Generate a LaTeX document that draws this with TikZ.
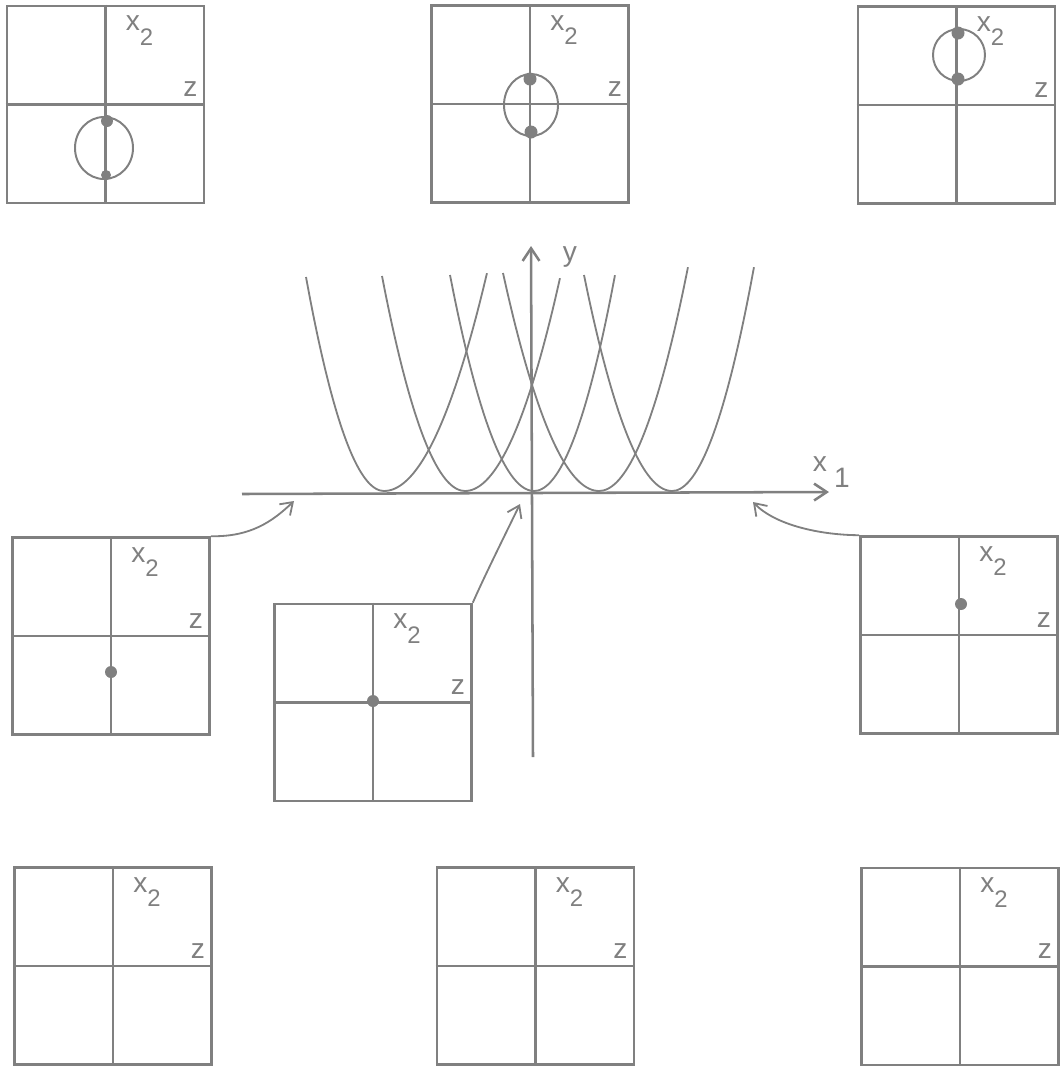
\documentclass[tikz,border=0pt]{standalone}
\usepackage{fontspec}
\setmainfont{Liberation Sans}
\usetikzlibrary{arrows.meta, positioning}
\definecolor{pencil}{RGB}{128,128,128}

\begin{document}
\begin{tikzpicture}[
  x=0.025cm, y=-0.025cm,
  panel/.style={rectangle, draw=pencil, line width=1.8pt,
                minimum width=4.925cm, minimum height=4.925cm, inner sep=0pt},
  divider/.style={draw=pencil, line width=1.8pt},
  tag/.style={text=pencil, inner sep=0pt, font=\fontsize{20}{22}\selectfont},
  curve/.style={draw=pencil, line width=1.3pt},
  ring/.style={draw=pencil, line width=1.4pt},
  dot/.style={fill=pencil},
  axisline/.style={draw=pencil, line width=1.8pt, -{Straight Barb[length=9pt, width=12pt]}},
  arrow/.style={draw=pencil, line width=1.3pt, -{Straight Barb[length=8pt, width=11pt]}}
]
  \useasboundingbox (0,0) rectangle (1060,1068);

  % the nine x2-z panels
  \foreach \name/\cx/\cy in {tl/105.5/104.5, tm/530/104, tr/956.5/105,
                             ml/111/636, mc/373/702.5, mr/959/635,
                             bl/113/966, bm/535.5/966, br/960/966.5} {
    \node[panel] (\name) at (\cx,\cy) {};
    \draw[divider] (\name.north) -- (\name.south);
    \draw[divider] (\name.west) -- (\name.east);
    \node[tag] (\name-x) at ([shift={(34,-74)}]\name.center)
      {x\raisebox{-1ex}{\fontsize{17}{17}\selectfont 2}};
    \node[tag] (\name-z) at ([shift={(85,-15)}]\name.center) {z};
  }

  % loops and points in the top panels
  \draw[ring] (104,148) ellipse [x radius=29, y radius=31];
  \draw[ring] (531,105) ellipse [x radius=27, y radius=31];
  \draw[ring] (959,55) ellipse [x radius=26, y radius=26];
  \fill[dot] (107,121) circle [radius=6];
  \fill[dot] (106,175) circle [radius=5];
  \fill[dot] (530,79) circle [radius=6.5];
  \fill[dot] (531,132) circle [radius=6.5];
  \fill[dot] (958,33) circle [radius=6.5];
  \fill[dot] (958,79) circle [radius=6.5];
  % single points in the middle panels
  \fill[dot] (111,672) circle [radius=6];
  \fill[dot] (373,701) circle [radius=6];
  \fill[dot] (961,604) circle [radius=6];

  % axes
  \coordinate (xstart) at (242,494);
  \coordinate (xend) at (829,492);
  \coordinate (ystart) at (533,757);
  \coordinate (yend) at (531,246);
  \draw[axisline] (xstart) -- (xend);
  \draw[axisline] (ystart) -- (yend);
  \node[tag] (ylab) at (570,257) {y};
  \node[tag] (xlab) at (820,464) {x};
  \node[tag] (xsub) at (842,478) {1};

  % parabolas
  \foreach \v/\wl/\hl/\wr/\hr in {384/78/214/103/218, 465/83/215/95/213,
                                  534/84/216/81/216, 599/96/218/89/224,
                                  672/88/216/82/224}
    \draw[curve] plot[domain=-1:1, samples=41, smooth]
      ({\v+(\x<0?\wl:\wr)*\x}, {491-(\x<0?\hl:\hr)*\x*\x});

  % panels to the x1 axis
  \coordinate (t1) at (294,501);
  \coordinate (t2) at (520,504);
  \coordinate (t3) at (753,502);
  \draw[arrow] (ml.north east) .. controls (250,537) and (272,522) .. (t1);
  \draw[arrow] (mc.north east) .. controls (485,575) and (505,535) .. (t2);
  \draw[arrow] (mr.north west) .. controls (820,535) and (775,525) .. (t3);
\end{tikzpicture}
\end{document}
